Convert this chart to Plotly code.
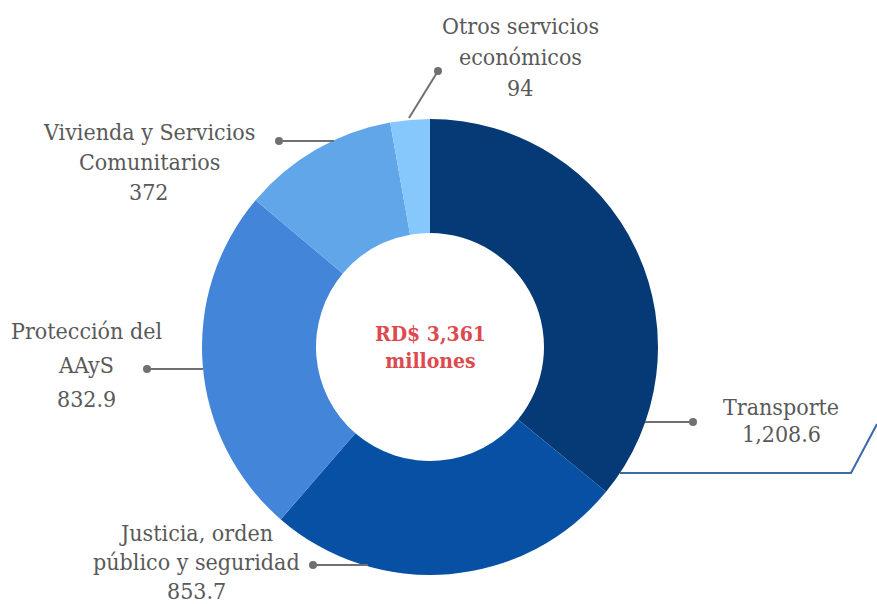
import plotly.graph_objects as go

categories = ["Transporte", "Justicia, orden<br>público y seguridad", "Protección del<br>AAyS",
              "Vivienda y Servicios<br>Comunitarios", "Otros servicios<br>económicos"]
values = [1208.6, 853.7, 832.9, 372, 94]
value_labels = ["1,208.6", "853.7", "832.9", "372", "94"]
colors = ["#063a76", "#0750a3", "#4285d9", "#62a6ea", "#86c7fc"]
center_text = "RD$ 3,361<br>millones"

W, H = 877, 604
CX, CY, R = 430, 347, 228

def px(x):
    return x / W

def py(y):
    return 1 - y / H

fig = go.Figure(go.Pie(
    labels=[c.replace("<br>", " ") for c in categories],
    values=values,
    sort=False,
    direction="clockwise",
    rotation=0,
    hole=0.5,
    marker=dict(colors=colors, line=dict(width=0)),
    textinfo="none",
    hoverinfo="label+value",
    domain=dict(x=[px(CX - R), px(CX + R)], y=[py(CY + R), py(CY - R)]),
    showlegend=False,
))

label_layout = [
    dict(x=781, y0=407, dy=27, line=[(645, 422), (693, 422)]),
    dict(x=196, y0=533, dy=29, line=[(368, 565), (313, 565)]),
    dict(x=86, y0=331, dy=34, line=[(203, 369), (147, 369)]),
    dict(x=149, y0=132, dy=30, line=[(334, 141), (279, 141)]),
    dict(x=520, y0=26, dy=31, line=[(409, 118), (438, 71)]),
]

FAM = "DejaVu Serif Condensed, DejaVu Serif, serif"
font = dict(family=FAM, size=23, color="#595959")
annotations = []
shapes = []
for cat, val, lay in zip(categories, value_labels, label_layout):
    lines = cat.split("<br>") + [val]
    for i, t in enumerate(lines):
        annotations.append(dict(x=px(lay["x"]), y=py(lay["y0"] + i * lay["dy"]), xref="paper", yref="paper",
                                text=t, showarrow=False, font=font, xanchor="center", yanchor="middle"))
    (x1, y1), (x2, y2) = lay["line"]
    shapes.append(dict(type="line", xref="paper", yref="paper", x0=px(x1), y0=py(y1), x1=px(x2), y1=py(y2),
                       line=dict(color="#707070", width=2)))
    shapes.append(dict(type="circle", xref="paper", yref="paper", x0=px(x2 - 4), x1=px(x2 + 4),
                       y0=py(y2 + 4), y1=py(y2 - 4), fillcolor="#707070", line=dict(width=0)))

shapes.append(dict(type="path", xref="paper", yref="paper",
                   path=f"M {px(620)} {py(473)} L {px(851)} {py(473)} L {px(877)} {py(424)}",
                   line=dict(color="#3a6aa8", width=2)))

annotations.append(dict(x=px(CX), y=py(CY), xref="paper", yref="paper", text=f"<b>{center_text}</b>",
                        showarrow=False, font=dict(family=FAM, size=21, color="#dc4a4f"),
                        xanchor="center", yanchor="middle"))

fig.update_layout(width=W, height=H, margin=dict(l=0, r=0, t=0, b=0),
                  paper_bgcolor="white", plot_bgcolor="white",
                  annotations=annotations, shapes=shapes)
fig.write_html("out.html", config={"displayModeBar": False},
               post_script="document.body.style.margin='0';document.body.style.overflow='hidden';")
